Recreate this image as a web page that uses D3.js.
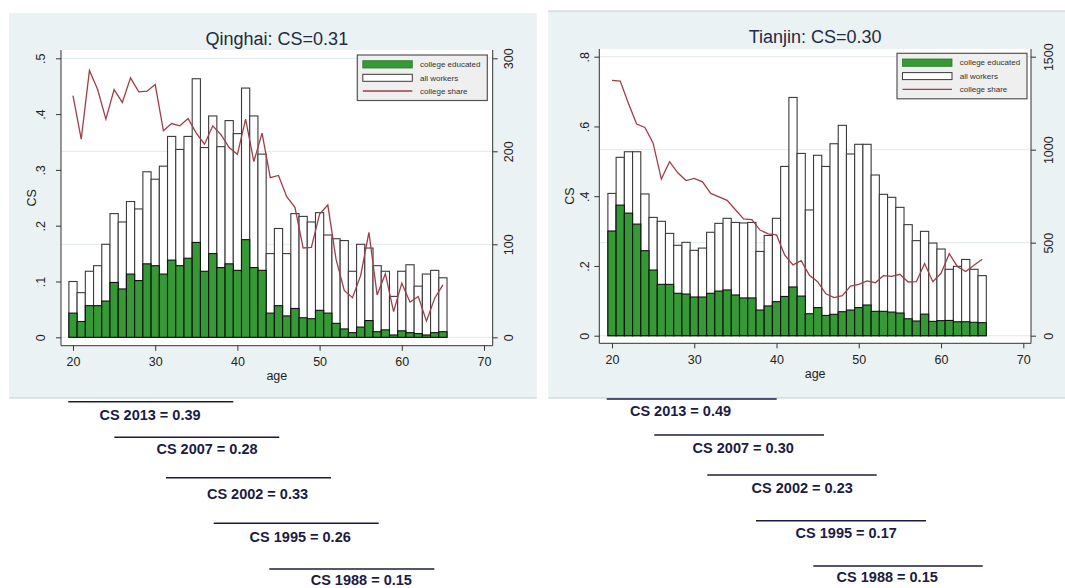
<!DOCTYPE html>
<html>
<head>
<meta charset="utf-8">
<script src="https://d3js.org/d3.v7.min.js"></script>
<style>
  html, body { margin: 0; padding: 0; background: #ffffff; }
  svg { display: block; font-family: "Liberation Sans", Arial, sans-serif; }
</style>
</head>
<body>
<svg id="chart" width="1065" height="588"></svg>
<script>
// ---------------- DATA ----------------
const ages = [20,21,22,23,24,25,26,27,28,29,30,31,32,33,34,35,36,37,38,39,40,41,42,43,44,45,46,47,48,49,50,51,52,53,54,55,56,57,58,59,60,61,62,63,64,65];

// Qinghai
const qhAll = [60,48,71,77,100,133,124,146,138,178, 170,184,216,202,216,278,204,238,205,233, 219,268,238,197,90,117,90,133,130,124, 134,110,106,104,71,100,96,77,71,44, 71,78,55,68,72,64];
const qhCollege = [26,17,34,34,39,59,52,68,61,79, 77,68,83,77,85,102,71,90,75,79, 72,105,75,72,26,34,23,31,21,20, 29,26,15,9,5,11,18,6,8,2.5, 7,5,4,2.5,5,6];
const qhShare = [.433,.355,.478,.444,.391,.444,.421,.465,.44,.441, .453,.370,.383,.379,.392,.366,.346,.379,.363,.340, .328,.391,.315,.366,.286,.290,.252,.233,.160,.161, .221,.237,.140,.084,.071,.111,.188,.076,.114,.046, .097,.063,.073,.029,.070,.094];

// Tianjin
const tjAll = [765,959,989,989,762,636,615,550,486,502, 459,471,556,604,631,609,606,609,453,539, 631,910,1281,980,676,970,910,1032,1131,977, 1029,1029,864,760,744,690,597,511,561,498, 466,357,373,410,357,323];
const tjCollege = [563,702,659,600,457,353,276,276,228,224, 208,208,228,240,246,219,203,203,138,160, 183,211,262,213,118,151,109,115,129,138, 151,165,131,131,127,122,91,79,116,77, 81,82,75,75,72,70];
const tjShare = [.732,.730,.666,.607,.597,.552,.449,.499,.467,.445, .451,.441,.408,.398,.388,.361,.335,.333,.303,.292, .289,.231,.203,.215,.173,.155,.120,.109,.115,.142, .147,.157,.152,.172,.170,.176,.154,.155,.207,.155, .179,.235,.198,.184,.202,.219];

// tick values / labels
const xTicks = [20,30,40,50,60,70];
const qhLeftTicks = [0,.1,.2,.3,.4,.5];
const qhRightTicks = [0,100,200,300];
const tjLeftTicks = [0,.2,.4,.6,.8];
const tjRightTicks = [0,500,1000,1500];

const titles = ["Qinghai: CS=0.31", "Tianjin: CS=0.30"];
const legendLabels = ["college educated", "all workers", "college share"];
const qhNotes = ["CS 2013 = 0.39", "CS 2007 = 0.28", "CS 2002 = 0.33", "CS 1995 = 0.26", "CS 1988 = 0.15"];
const tjNotes = ["CS 2013 = 0.49", "CS 2007 = 0.30", "CS 2002 = 0.23", "CS 1995 = 0.17", "CS 1988 = 0.15"];

// ---------------- STYLE ----------------
const C = {
  panel: "#eaf2f3",
  panelEdge: "#c5cccf",
  grid: "#e6eef0",
  axis: "#333333",
  text: "#222222",
  title: "#1d2a45",
  green: "#359a35",
  barEdge: "#111111",
  whiteEdge: "#3a3a3a",
  line: "#a03e48",
  legendBg: "#efefef",
  legendEdge: "#555555",
  note: "#1b1b45"
};

const svg = d3.select("#chart");

function fmtShare(d) { return d === 0 ? "0" : d3.format(".1f")(d).replace(/^0/, ""); }

function drawPanel(cfg) {
  const g = svg.append("g");
  // panel background
  g.append("rect").attr("x", cfg.bg[0]).attr("y", cfg.bg[1])
    .attr("width", cfg.bg[2]).attr("height", cfg.bg[3]).attr("fill", C.panel);
  g.append("line").attr("x1", cfg.bg[0]).attr("x2", cfg.bg[0] + cfg.bg[2])
    .attr("y1", cfg.bg[1] + cfg.bg[3]).attr("y2", cfg.bg[1] + cfg.bg[3])
    .attr("stroke", C.panelEdge).attr("stroke-width", 1.2);
  if (cfg.topEdge) {
    g.append("line").attr("x1", cfg.bg[0]).attr("x2", cfg.bg[0] + cfg.bg[2])
      .attr("y1", cfg.bg[1]).attr("y2", cfg.bg[1])
      .attr("stroke", C.panelEdge).attr("stroke-width", 1.2);
  }

  const L = cfg.plot.left, R = cfg.plot.right, T = cfg.plot.top, B = cfg.plot.bottom;
  // plot region
  g.append("rect").attr("x", L).attr("y", T).attr("width", R - L).attr("height", B - T).attr("fill", "#ffffff");

  const x = d3.scaleLinear().domain([20, 70]).range(cfg.xRange);
  const yL = d3.scaleLinear().domain(cfg.leftDomain).range(cfg.yRange);
  const yR = d3.scaleLinear().domain(cfg.rightDomain).range(cfg.yRange);

  // gridlines (right axis ticks)
  g.append("g").selectAll("line").data(cfg.rightTicks).join("line")
    .attr("x1", L).attr("x2", R)
    .attr("y1", d => yR(d)).attr("y2", d => yR(d))
    .attr("stroke", C.grid).attr("stroke-width", 1.2);

  const bw = x(21) - x(20);
  // all workers bars
  g.append("g").selectAll("rect").data(ages).join("rect")
    .attr("x", (d) => x(d) - bw / 2)
    .attr("width", bw)
    .attr("y", (d, i) => yR(cfg.all[i]))
    .attr("height", (d, i) => yR(0) - yR(cfg.all[i]))
    .attr("fill", "#ffffff").attr("stroke", C.whiteEdge).attr("stroke-width", 1.1);
  // college bars
  g.append("g").selectAll("rect").data(ages).join("rect")
    .attr("x", (d) => x(d) - bw / 2)
    .attr("width", bw)
    .attr("y", (d, i) => yR(cfg.college[i]))
    .attr("height", (d, i) => yR(0) - yR(cfg.college[i]))
    .attr("fill", C.green).attr("stroke", C.barEdge).attr("stroke-width", 1.1);
  // share line
  const line = d3.line().x((d) => x(d)).y((d, i) => yL(cfg.share[i]));
  g.append("path").datum(ages).attr("d", line)
    .attr("fill", "none").attr("stroke", C.line).attr("stroke-width", 1.3);

  // axes
  const axL = d3.axisLeft(yL).tickValues(cfg.leftTicks).tickSize(5).tickFormat(fmtShare);
  const axR = d3.axisRight(yR).tickValues(cfg.rightTicks).tickSize(5).tickFormat(d3.format("d"));
  const axB = d3.axisBottom(x).tickValues(xTicks).tickSize(5).tickFormat(d3.format("d"));

  const gL = g.append("g").attr("transform", `translate(${L},0)`).call(axL);
  const gR = g.append("g").attr("transform", `translate(${R},0)`).call(axR);
  const gB = g.append("g").attr("transform", `translate(0,${B})`).call(axB);
  [gL, gR, gB].forEach(a => {
    a.select(".domain").remove();
    a.selectAll(".tick line").attr("stroke", C.axis).attr("stroke-width", 1);
    a.selectAll("text").attr("fill", C.text).style("font-size", "12.5px")
      .style("font-family", '"Liberation Sans", Arial, sans-serif');
  });
  // axis lines across the full plot region
  g.append("line").attr("x1", L).attr("x2", L).attr("y1", T).attr("y2", B).attr("stroke", C.axis).attr("stroke-width", 1);
  g.append("line").attr("x1", R).attr("x2", R).attr("y1", T).attr("y2", B).attr("stroke", C.axis).attr("stroke-width", 1);
  g.append("line").attr("x1", L).attr("x2", R).attr("y1", B).attr("y2", B).attr("stroke", C.axis).attr("stroke-width", 1);

  // rotate y tick labels
  gL.selectAll(".tick text").attr("x", 0).attr("dy", "0.35em")
    .attr("text-anchor", "middle").attr("transform", `translate(${-cfg.leftLabelOff},0) rotate(-90)`);
  gR.selectAll(".tick text").attr("x", 0).attr("dy", "0.35em")
    .attr("text-anchor", "middle").attr("transform", `translate(${cfg.rightLabelOff},0) rotate(-90)`);
  gB.selectAll(".tick text").attr("y", 0).attr("dy", "0.35em")
    .attr("transform", `translate(0,${cfg.xLabelOff})`);

  // axis titles
  g.append("text").attr("transform", `translate(${cfg.csX},${(T + B) / 2}) rotate(-90)`)
    .attr("text-anchor", "middle").attr("dy", "0.35em")
    .attr("fill", C.text).style("font-size", "12.5px").text("CS");
  g.append("text").attr("x", (L + R) / 2).attr("y", B + cfg.ageOff).attr("dy", "0.35em")
    .attr("text-anchor", "middle").attr("fill", C.text).style("font-size", "12.5px").text("age");

  // title
  g.append("text").attr("x", (L + R) / 2).attr("y", cfg.titleY).attr("dy", "0.35em")
    .attr("text-anchor", "middle").attr("fill", C.title).style("font-size", "18px").text(cfg.title);

  // legend
  const lg = g.append("g").attr("transform", `translate(${cfg.legend[0]},${cfg.legend[1]})`);
  lg.append("rect").attr("x", 0).attr("y", 0).attr("width", 130).attr("height", 45.5)
    .attr("fill", C.legendBg).attr("stroke", C.legendEdge).attr("stroke-width", 1.2);
  lg.append("rect").attr("x", 5.5).attr("y", 5.7).attr("width", 49.5).attr("height", 7.3)
    .attr("fill", C.green).attr("stroke", "#2a7a2a").attr("stroke-width", 0.8);
  lg.append("rect").attr("x", 5.5).attr("y", 19.3).attr("width", 49.5).attr("height", 7)
    .attr("fill", "#ffffff").attr("stroke", C.whiteEdge).attr("stroke-width", 1);
  lg.append("line").attr("x1", 5.5).attr("x2", 55).attr("y1", 36).attr("y2", 36)
    .attr("stroke", C.line).attr("stroke-width", 1.3);
  lg.selectAll("text.lab").data(legendLabels).join("text").attr("class", "lab")
    .attr("x", 62.7).attr("y", (d, i) => [9.3, 22.8, 36][i]).attr("dy", "0.35em")
    .attr("fill", "#333333").style("font-size", "8px").text(d => d);

  // bottom notes
  const ng = g.append("g");
  cfg.notes.forEach((txt, i) => {
    const n = cfg.noteLayout[i];
    ng.append("line").attr("x1", n[0]).attr("x2", n[1]).attr("y1", n[2]).attr("y2", n[2])
      .attr("stroke", C.note).attr("stroke-width", 1.6);
    ng.append("text").attr("x", n[3]).attr("y", n[4]).attr("dy", "0.35em")
      .attr("text-anchor", "middle").attr("fill", C.note)
      .style("font-size", "14.5px").style("font-weight", "bold").text(txt);
  });
}

drawPanel({
  bg: [9, 13, 527.7, 385], topEdge: false,
  plot: { left: 61, right: 492.7, top: 50, bottom: 345.7 },
  xRange: [73, 484],
  yRange: [337.3, 58.3],
  leftDomain: [0, .5], rightDomain: [0, 300],
  leftTicks: qhLeftTicks, rightTicks: qhRightTicks,
  all: qhAll, college: qhCollege, share: qhShare,
  leftLabelOff: 20.5, rightLabelOff: 15.7, xLabelOff: 16, csX: 31.7, ageOff: 30,
  titleY: 38.5, title: titles[0],
  legend: [357.3, 55],
  notes: qhNotes,
  noteLayout: [
    [68.3, 233.3, 401.7, 150, 415],
    [114.3, 279.3, 437.3, 207, 449.3],
    [166, 331, 477.7, 257.5, 494.3],
    [213.7, 378.7, 523.3, 300.2, 536.7],
    [269.3, 434.3, 569, 361.3, 579.5]
  ]
});

drawPanel({
  bg: [548.3, 11, 516.7, 387], topEdge: true,
  plot: { left: 599.3, right: 1031, top: 49, bottom: 343.3 },
  xRange: [612, 1023.3],
  yRange: [335.7, 56.7],
  leftDomain: [0, .8], rightDomain: [0, 1500],
  leftTicks: tjLeftTicks, rightTicks: tjRightTicks,
  all: tjAll, college: tjCollege, share: tjShare,
  leftLabelOff: 14.5, rightLabelOff: 17.3, xLabelOff: 16.7, csX: 570, ageOff: 30.7,
  titleY: 36.5, title: titles[1],
  legend: [897, 53.3],
  notes: tjNotes,
  noteLayout: [
    [606.7, 776.7, 399, 680.5, 411],
    [654.3, 824, 435, 743.2, 448.3],
    [707.3, 876.7, 475, 802.2, 487.7],
    [756, 926, 520.7, 846.2, 533.3],
    [813.3, 982.7, 566, 887.2, 576.7]
  ]
});
</script>
</body>
</html>
